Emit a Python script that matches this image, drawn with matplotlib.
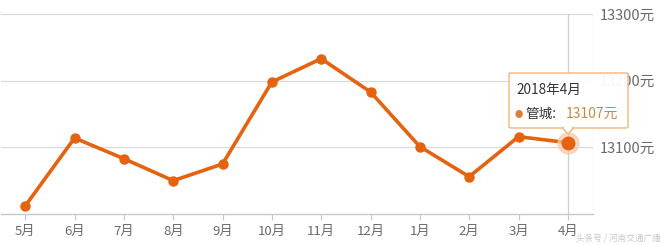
import matplotlib
matplotlib.use("Agg")
import matplotlib.pyplot as plt
from matplotlib.patches import FancyBboxPatch, Polygon

plt.rcParams['font.family'] = ['Noto Sans CJK SC', 'DejaVu Sans']

# data
months = ['5月', '6月', '7月', '8月', '9月', '10月', '11月', '12月', '1月', '2月', '3月', '4月']
prices = [13012, 13114, 13083, 13050, 13075, 13198, 13233, 13183, 13101, 13056, 13116, 13107]
y_ticks = [13000, 13100, 13200, 13300]
y_labels = ['', '13100元', '13200元', '13300元']

line_color = '#e5620f'
grid_color = '#d9d9d9'
text_color = '#6a6a6a'

fig = plt.figure(figsize=(6.64, 2.45), dpi=100)
ax = fig.add_axes([0.0008, 1 - 214 / 245, 592 / 664, 200 / 245])

x = list(range(len(months)))
ax.set_xlim(-0.5, len(months) - 0.5)
ax.set_ylim(13000, 13300)

# grid and frame
for v in y_ticks[1:]:
    ax.axhline(v, color=grid_color, lw=0.9, zorder=1)
ax.axvline(len(months) - 0.5, color='#e3e3e3', lw=0.9, zorder=1)
for s in ['top', 'left', 'right']:
    ax.spines[s].set_visible(False)
ax.spines['bottom'].set_color('#c8c8c8')
ax.spines['bottom'].set_linewidth(1.0)

# crosshair at the hovered point
ax.axvline(x[-1], color='#cfcfcf', lw=0.9, zorder=2)

ax.plot(x, prices, color=line_color, lw=2.6, zorder=3, solid_joinstyle='round')
ax.plot(x[:-1], prices[:-1], 'o', color=line_color, ms=6.5, zorder=4)
ax.plot(x[-1], prices[-1], 'o', color='#f7c9a6', ms=15, alpha=0.7, zorder=4)
ax.plot(x[-1], prices[-1], 'o', color=line_color, ms=9, zorder=5)

ax.set_xticks(x)
ax.set_xticklabels(months, color=text_color, fontsize=9.5)
ax.tick_params(axis='x', length=4, color='#c8c8c8', pad=4)

ax.set_yticks(y_ticks)
ax.set_yticklabels(y_labels, color=text_color, fontsize=10.5)
ax.yaxis.tick_right()
ax.tick_params(axis='y', length=0, pad=5)

# tooltip
tx0, tx1 = 509 / 664, 628 / 664
ty0, ty1 = 1 - 128 / 245, 1 - 73 / 245
box = FancyBboxPatch((tx0, ty0), tx1 - tx0, ty1 - ty0, boxstyle='round,pad=0,rounding_size=0.004',
                     transform=fig.transFigure, facecolor='white', edgecolor='#f0b27a',
                     lw=1.0, alpha=0.95, zorder=10)
fig.add_artist(box)
ax_x = 568 / 664
arrow = Polygon([(ax_x - 6 / 664, ty0 + 0.5 / 245), (ax_x + 6 / 664, ty0 + 0.5 / 245), (ax_x, ty0 - 6 / 245)],
                closed=True, transform=fig.transFigure, facecolor='white', edgecolor='#f0b27a',
                lw=1.0, zorder=11)
fig.add_artist(arrow)
fig.add_artist(Polygon([(ax_x - 5 / 664, ty0 + 1.5 / 245), (ax_x + 5 / 664, ty0 + 1.5 / 245), (ax_x, ty0 - 4.5 / 245)],
                       closed=True, transform=fig.transFigure, facecolor='white', edgecolor='none', zorder=12))
fig.text(516 / 664, 1 - 90 / 245, '2018年4月', fontsize=9.8, color='#333333', va='center', zorder=13)
fig.text(515 / 664, 1 - 114 / 245, '●', fontsize=6, color='#e07b39', va='center', zorder=13)
fig.text(525 / 664, 1 - 114 / 245, '管城:', fontsize=9.8, color='#333333', va='center', zorder=13)
fig.text(566 / 664, 1 - 114 / 245, '13107元', fontsize=10, color='#c98a45', va='center', zorder=13)

# watermark
fig.text(661 / 664, 1 - 239 / 245, '头条号 / 河南交通广播', fontsize=6.2, color='#bbbbbb',
         ha='right', va='center', alpha=0.8)

fig.savefig('out.png', dpi=100, facecolor='white')
